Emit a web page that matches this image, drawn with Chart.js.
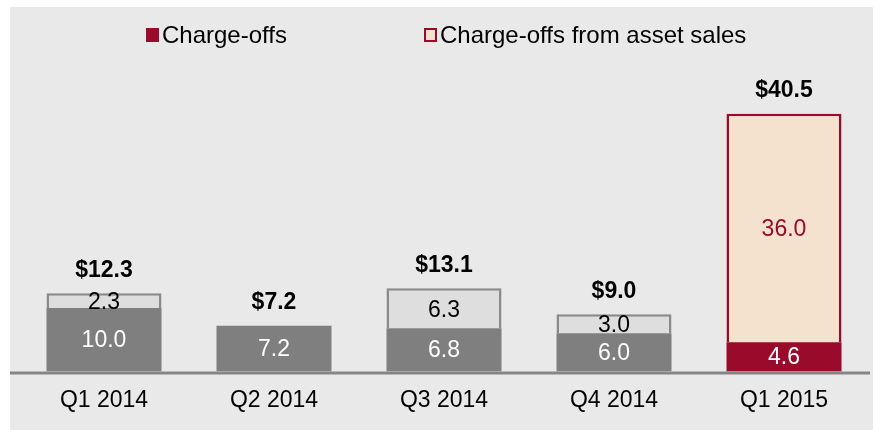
<!DOCTYPE html>
<html>
<head>
<meta charset="utf-8">
<script src="https://cdn.jsdelivr.net/npm/chart.js@4"></script>
<style>
  html, body { margin: 0; padding: 0; background: #ffffff; }
  #wrap { position: relative; width: 875px; height: 430px; overflow: hidden; }
  #panel { position: absolute; left: 10px; top: 7px; width: 863px; height: 423px; background: #e9e9e9; }
  #chart { position: absolute; left: 0; top: 0; }
  .lg { position: absolute; font-family: "Liberation Sans", Arial, sans-serif; font-size: 24px; color: #000; line-height: 28px; white-space: nowrap; }
  .box { position: absolute; width: 13px; height: 14px; box-sizing: border-box; }
</style>
</head>
<body>
<div id="wrap">
  <div id="panel"></div>
  <canvas id="chart" width="875" height="430"></canvas>
  <div class="box" style="left:146px; top:28px; background:#990a2b;"></div>
  <div class="lg" style="left:162px; top:21px;">Charge-offs</div>
  <div class="box" style="left:424px; top:28px; background:#f4e2cf; border:2px solid #990a2b;"></div>
  <div class="lg" style="left:440px; top:21px;">Charge-offs from asset sales</div>
</div>
<script>
const categories = ['Q1 2014', 'Q2 2014', 'Q3 2014', 'Q4 2014', 'Q1 2015'];
const chargeOffs = [10.0, 7.2, 6.8, 6.0, 4.6];
const assetSales = [2.3, null, 6.3, 3.0, 36.0];
const totals = [12.3, 7.2, 13.1, 9.0, 40.5];
const totalLabels = ['$12.3', '$7.2', '$13.1', '$9.0', '$40.5'];

const chargeColors = ['#7f7f7f', '#7f7f7f', '#7f7f7f', '#7f7f7f', '#990a2b'];
const assetFill = ['#dedede', '#dedede', '#dedede', '#dedede', '#f4e2cf'];
const assetBorder = ['#8a8a8a', '#8a8a8a', '#8a8a8a', '#8a8a8a', '#990a2b'];
const assetText = ['#000000', '#000000', '#000000', '#000000', '#990a2b'];

const FONT = '"Liberation Sans", Arial, sans-serif';

const labelPlugin = {
  id: 'labels',
  beforeDatasetsDraw(chart) {
    const ctx = chart.ctx;
    const y0 = chart.scales.y.getPixelForValue(0);
    ctx.save();
    ctx.strokeStyle = '#858585';
    ctx.lineWidth = 3;
    ctx.beginPath();
    ctx.moveTo(10, y0 + 1.5);
    ctx.lineTo(870, y0 + 1.5);
    ctx.stroke();
    ctx.restore();
  },
  afterDatasetsDraw(chart) {
    const ctx = chart.ctx;
    const m0 = chart.getDatasetMeta(0).data;
    const m1 = chart.getDatasetMeta(1).data;
    ctx.save();
    ctx.textAlign = 'center';
    ctx.textBaseline = 'middle';
    for (let i = 0; i < categories.length; i++) {
      ctx.font = '23px ' + FONT;
      const b = m0[i];
      ctx.fillStyle = '#ffffff';
      ctx.fillText(chargeOffs[i].toFixed(1), b.x, (b.y + b.base) / 2 + 1);
      let top = b.y;
      if (assetSales[i] != null) {
        const a = m1[i];
        ctx.fillStyle = assetText[i];
        ctx.fillText(assetSales[i].toFixed(1), a.x, (a.y + a.base) / 2 + 2);
        top = Math.min(top, a.y);
      }
      ctx.font = 'bold 23px ' + FONT;
      ctx.fillStyle = '#000000';
      ctx.fillText(totalLabels[i], b.x, top - 23);
    }
    ctx.restore();
  }
};

new Chart(document.getElementById('chart'), {
  type: 'bar',
  data: {
    labels: categories,
    datasets: [
      {
        label: 'Charge-offs',
        data: chargeOffs,
        backgroundColor: chargeColors,
        borderWidth: 0,
        barPercentage: 115 / 170,
        categoryPercentage: 1
      },
      {
        label: 'Charge-offs from asset sales',
        data: assetSales,
        backgroundColor: assetFill,
        borderColor: assetBorder,
        borderWidth: { top: 2.5, left: 2.5, right: 2.5, bottom: 0 },
        borderSkipped: false,
        barPercentage: 115 / 170,
        categoryPercentage: 1
      }
    ]
  },
  options: {
    responsive: false,
    animation: false,
    devicePixelRatio: 1,
    layout: { padding: { left: 19, right: 6, top: 54, bottom: 1 } },
    plugins: { legend: { display: false }, tooltip: { enabled: false } },
    scales: {
      x: {
        stacked: true,
        grid: { display: false, drawTicks: false },
        border: { display: false },
        ticks: { color: '#000000', padding: 15, font: { family: FONT, size: 23 } }
      },
      y: {
        stacked: true,
        display: false,
        min: 0,
        max: 50
      }
    }
  },
  plugins: [labelPlugin]
});
</script>
</body>
</html>
